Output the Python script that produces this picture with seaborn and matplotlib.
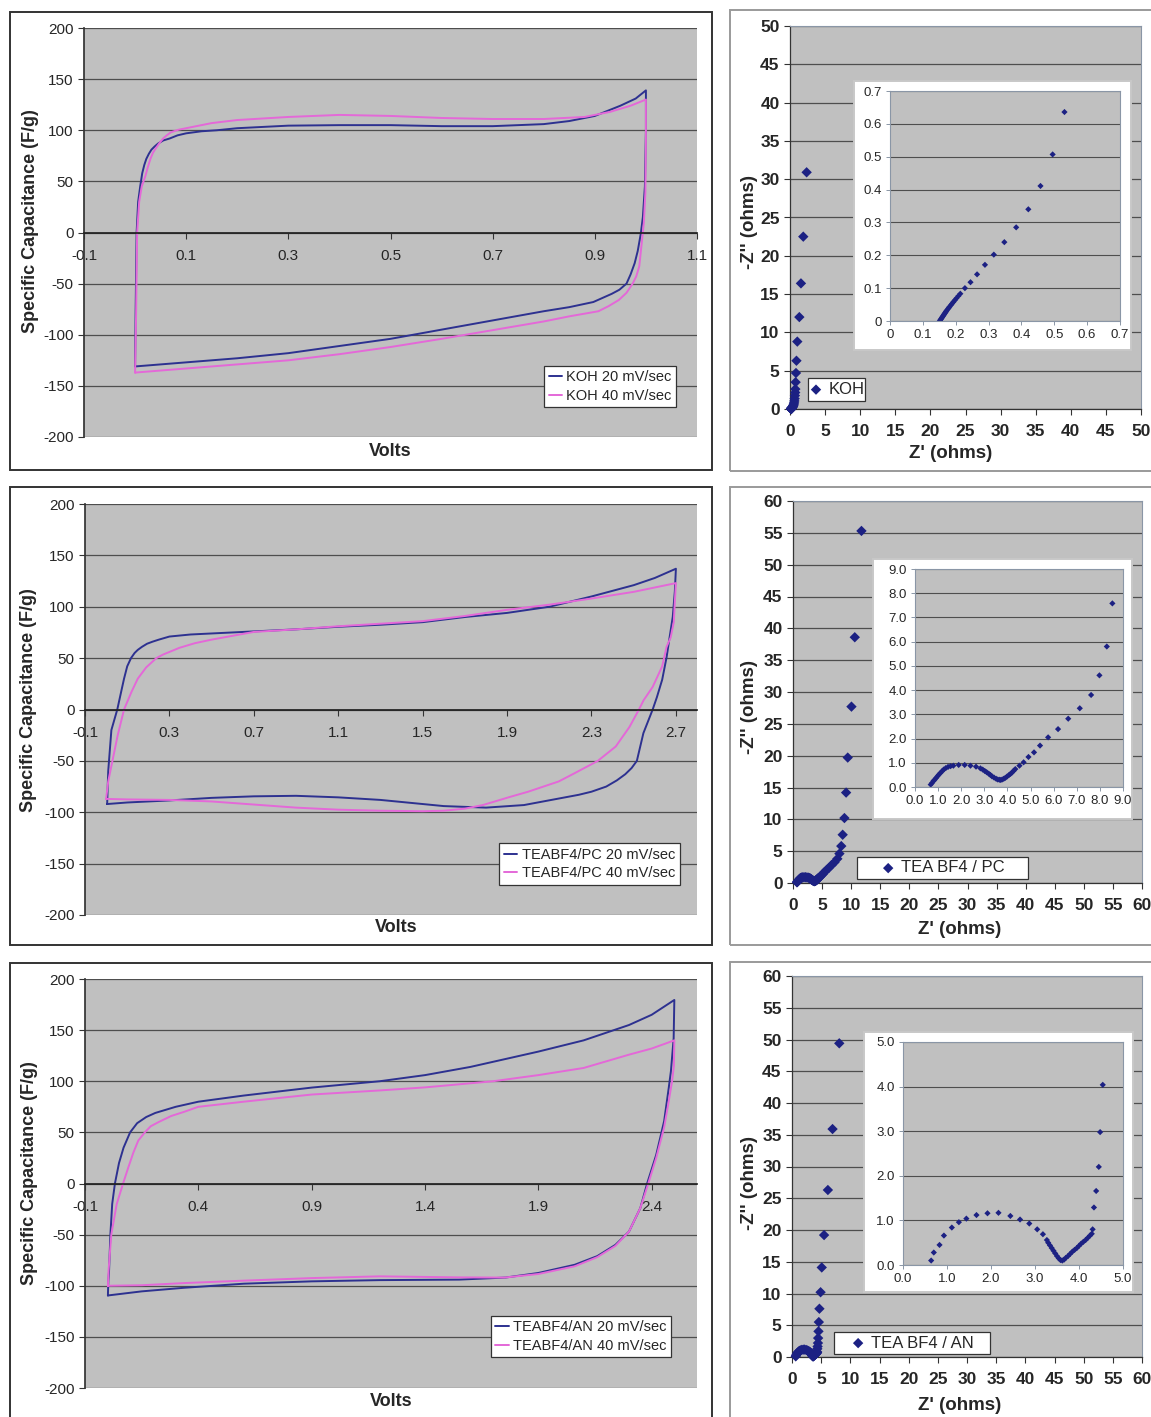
import seaborn as sns
import matplotlib.pyplot as plt
from matplotlib.patches import Rectangle
from matplotlib.ticker import FormatStrFormatter

W, H = 1151, 1417

# ---------------------------------------
# CV loops (Volts, F/g)
# ---------------------------------------
koh20_v = [0.000, 0.001, 0.003, 0.006, 0.010, 0.014, 0.018, 0.022, 0.027, 0.032,
           0.038, 0.045, 0.055, 0.068, 0.083, 0.10, 0.13, 0.16, 0.20, 0.30,
           0.40, 0.50, 0.60, 0.70, 0.80, 0.85, 0.90, 0.95, 0.98, 1.000,
           1.000, 0.998, 0.994, 0.990, 0.984, 0.978, 0.970, 0.962, 0.948, 0.933,
           0.915, 0.897, 0.85, 0.80, 0.70, 0.60, 0.50, 0.40, 0.30, 0.20,
           0.10, 0.000]
koh20_c = [-131, -80, 0, 30, 45, 58, 66, 72, 77, 81,
           84, 87, 90, 92, 95, 97, 99, 100, 102, 104.5,
           105, 105, 104, 104, 106, 109, 114, 124, 131, 139,
           100, 45, 15, -1, -18, -30, -41, -50, -56, -60,
           -64, -68, -73, -77, -86, -95, -104, -111, -118, -123,
           -127, -131]
koh40_v = [0.000, 0.002, 0.004, 0.008, 0.013, 0.020, 0.025, 0.030, 0.035, 0.040,
           0.047, 0.055, 0.062, 0.070, 0.085, 0.10, 0.15, 0.20, 0.30, 0.40,
           0.50, 0.60, 0.70, 0.80, 0.88, 0.93, 0.97, 1.000, 1.000, 0.999,
           0.996, 0.994, 0.987, 0.981, 0.974, 0.962, 0.947, 0.927, 0.907, 0.85,
           0.80, 0.70, 0.60, 0.50, 0.40, 0.30, 0.20, 0.10, 0.000]
koh40_c = [-137, -80, 0, 30, 45, 55, 64, 72, 78, 82,
           87, 92, 95, 98, 100.5, 102, 107, 110, 113, 115,
           114, 112, 111, 111, 113, 118, 124, 130, 90, 40,
           10, 0, -33, -43, -50, -59, -66, -72, -77, -82,
           -87, -95.5, -104, -112, -119, -125, -129, -133, -137]

pc20_v = [0.005, 0.010, 0.025, 0.053, 0.070, 0.085, 0.10, 0.118, 0.135, 0.15,
          0.17, 0.194, 0.22, 0.25, 0.30, 0.40, 0.50, 0.70, 0.90, 1.10,
          1.30, 1.50, 1.70, 1.90, 2.10, 2.30, 2.50, 2.60, 2.70, 2.695,
          2.685, 2.67, 2.656, 2.635, 2.61, 2.59, 2.546, 2.515, 2.49, 2.46,
          2.42, 2.37, 2.30, 2.24, 2.11, 1.98, 1.80, 1.60, 1.50, 1.30,
          1.10, 0.90, 0.70, 0.50, 0.30, 0.10, 0.005]
pc20_c = [-92, -60, -20, 0, 16, 30, 42, 50, 55, 58,
          61, 64, 66, 68, 71, 73, 74, 76, 78, 80.5,
          82.5, 85, 90, 94, 100, 110, 121, 128, 137, 115,
          90, 70, 51, 29, 12, 0, -23, -50, -57, -63,
          -69, -75, -80, -83, -88, -93, -95.5, -94, -92, -88,
          -85.5, -84, -84.5, -86, -88.5, -90.5, -92]
pc40_v = [0.000, 0.010, 0.030, 0.055, 0.085, 0.12, 0.15, 0.19, 0.238, 0.27,
          0.30, 0.347, 0.42, 0.50, 0.70, 0.90, 1.10, 1.30, 1.50, 1.70,
          1.90, 2.10, 2.30, 2.50, 2.70, 2.695, 2.69, 2.675, 2.656, 2.635,
          2.59, 2.547, 2.525, 2.48, 2.415, 2.33, 2.22, 2.145, 2.00, 1.915,
          1.785, 1.70, 1.60, 1.50, 1.30, 1.10, 0.90, 0.70, 0.50, 0.30,
          0.10, 0.000]
pc40_c = [-87, -70, -50, -25, 0, 17, 30, 41, 50, 53.5,
          56, 60, 64.5, 68, 75.5, 78, 81, 83.5, 86, 91,
          97, 102, 108, 114.5, 123, 105, 85, 70, 61, 42,
          22, 9, 0, -17, -36, -50, -62, -70, -80, -85,
          -93, -96.5, -98.5, -99, -98.5, -97.5, -95.5, -92.5, -89.5, -88,
          -87.5, -87]

an20_v = [0.001, 0.003, 0.006, 0.012, 0.020, 0.032, 0.050, 0.070, 0.099, 0.13,
          0.17, 0.21, 0.255, 0.30, 0.40, 0.60, 0.90, 1.20, 1.40, 1.60,
          1.80, 1.90, 2.10, 2.30, 2.40, 2.50, 2.497, 2.485, 2.475, 2.455,
          2.42, 2.38, 2.35, 2.30, 2.24, 2.16, 2.06, 1.90, 1.755, 1.55,
          1.20, 0.90, 0.60, 0.336, 0.15, 0.001]
an20_c = [-109.5, -95, -86, -50, -20, 0, 20, 35, 50, 59,
          65, 69, 72, 75, 80, 86, 93.8, 100, 106, 114,
          124, 129, 140, 155, 165, 179.5, 142, 110, 93, 61,
          28, 0, -24, -47, -60, -71, -79.5, -87.5, -92, -94,
          -94.5, -95.7, -98, -102, -105.5, -109.5]
an40_v = [0.001, 0.004, 0.016, 0.040, 0.068, 0.090, 0.113, 0.135, 0.164, 0.19,
          0.224, 0.28, 0.336, 0.40, 0.60, 0.90, 1.20, 1.40, 1.70, 1.90,
          2.10, 2.30, 2.40, 2.50, 2.498, 2.49, 2.475, 2.455, 2.42, 2.385,
          2.35, 2.30, 2.24, 2.16, 2.06, 1.90, 1.75, 1.55, 1.20, 0.90,
          0.60, 0.336, 0.15, 0.001]
an40_c = [-100, -85, -50, -20, 0, 15, 30, 42, 50, 56,
          60, 66, 70, 75, 80, 87, 91, 94, 100, 106,
          113, 126, 132, 140, 115, 100, 80, 55, 25, 0,
          -24, -47, -61, -72, -81, -88.5, -92, -91.8, -90.8, -92.5,
          -95, -97.4, -99.5, -100]

cv_yticks = [-200, -150, -100, -50, 0, 50, 100, 150, 200]
koh_cv_xticks = [-0.1, 0.1, 0.3, 0.5, 0.7, 0.9, 1.1]
pc_cv_xticks = [-0.1, 0.3, 0.7, 1.1, 1.5, 1.9, 2.3, 2.7]
an_cv_xticks = [-0.1, 0.4, 0.9, 1.4, 1.9, 2.4]

# ---------------------------------------
# Nyquist points (Z', -Z'' in ohms)
# ---------------------------------------
koh_zre = [0.152, 0.154, 0.156, 0.158, 0.160, 0.162, 0.164, 0.166, 0.168, 0.170,
           0.172, 0.175, 0.178, 0.181, 0.185, 0.189, 0.193, 0.197, 0.202, 0.208,
           0.214, 0.228, 0.245, 0.265, 0.289, 0.316, 0.348, 0.384, 0.421, 0.458,
           0.495, 0.531, 0.58, 0.62, 0.66, 0.70, 0.74, 0.76, 0.80, 0.85,
           0.92, 1.04, 1.33, 1.56, 1.89, 2.37]
koh_zim = [0.001, 0.004, 0.007, 0.010, 0.013, 0.016, 0.019, 0.022, 0.025, 0.028,
           0.031, 0.035, 0.039, 0.043, 0.048, 0.053, 0.058, 0.063, 0.069, 0.076,
           0.083, 0.100, 0.118, 0.142, 0.171, 0.202, 0.240, 0.285, 0.340, 0.411,
           0.507, 0.636, 0.80, 1.05, 1.35, 1.75, 2.15, 2.6, 3.5, 4.7,
           6.3, 8.8, 12.0, 16.4, 22.5, 30.9]

pc_zre = [0.68, 0.74, 0.80, 0.85, 0.91, 0.97, 1.03, 1.10, 1.17, 1.24,
          1.33, 1.43, 1.54, 1.66, 1.89, 2.15, 2.40, 2.64, 2.83, 2.93,
          3.02, 3.10, 3.19, 3.26, 3.33, 3.42, 3.51, 3.58, 3.65, 3.71,
          3.77, 3.84, 3.91, 3.98, 4.06, 4.13, 4.20, 4.27, 4.34, 4.52,
          4.70, 4.91, 5.15, 5.41, 5.76, 6.19, 6.63, 7.13, 7.62, 7.98,
          8.30, 8.54, 8.84, 9.13, 9.41, 10.05, 10.62, 11.77]
pc_zim = [0.10, 0.17, 0.25, 0.30, 0.37, 0.44, 0.51, 0.58, 0.65, 0.72,
          0.78, 0.83, 0.86, 0.88, 0.91, 0.91, 0.88, 0.84, 0.77, 0.72,
          0.66, 0.61, 0.55, 0.50, 0.44, 0.39, 0.34, 0.31, 0.30, 0.29,
          0.31, 0.34, 0.38, 0.43, 0.49, 0.54, 0.60, 0.67, 0.74, 0.88,
          1.02, 1.24, 1.43, 1.71, 2.05, 2.39, 2.82, 3.25, 3.80, 4.61,
          5.80, 7.58, 10.2, 14.2, 19.7, 27.7, 38.6, 55.3]

an_zre = [0.64, 0.70, 0.83, 0.93, 1.11, 1.27, 1.44, 1.67, 1.92, 2.17,
          2.44, 2.66, 2.87, 3.05, 3.18, 3.27, 3.30, 3.34, 3.38, 3.42,
          3.46, 3.50, 3.54, 3.58, 3.62, 3.66, 3.70, 3.75, 3.80, 3.85,
          3.90, 3.95, 4.00, 4.05, 4.10, 4.15, 4.20, 4.25, 4.29, 4.31,
          4.34, 4.39, 4.45, 4.48, 4.54, 4.60, 4.70, 4.90, 5.10, 5.50,
          6.15, 6.95, 8.10]
an_zim = [0.10, 0.28, 0.45, 0.66, 0.84, 0.96, 1.04, 1.12, 1.16, 1.17,
          1.10, 1.02, 0.93, 0.80, 0.69, 0.56, 0.50, 0.44, 0.38, 0.32,
          0.26, 0.20, 0.15, 0.11, 0.10, 0.12, 0.16, 0.20, 0.25, 0.30,
          0.34, 0.38, 0.43, 0.48, 0.52, 0.56, 0.61, 0.66, 0.70, 0.80,
          1.29, 1.66, 2.20, 2.98, 4.04, 5.5, 7.6, 10.2, 14.1, 19.2,
          26.3, 35.9, 49.4]

koh_ticks = [0, 5, 10, 15, 20, 25, 30, 35, 40, 45, 50]
tea_ticks = [0, 5, 10, 15, 20, 25, 30, 35, 40, 45, 50, 55, 60]
koh_in_ticks = [0, 0.1, 0.2, 0.3, 0.4, 0.5, 0.6, 0.7]
pc_in_ticks = [0.0, 1.0, 2.0, 3.0, 4.0, 5.0, 6.0, 7.0, 8.0, 9.0]
an_in_ticks = [0.0, 1.0, 2.0, 3.0, 4.0, 5.0]

# ---------------------------------------
# Styling
# ---------------------------------------
sns.set_theme(style="white")
plt.rcParams['font.family'] = ['Liberation Sans', 'DejaVu Sans']
plt.rcParams['axes.unicode_minus'] = False

NAVY = '#2D3190'
PINK = '#E468D8'
MARK = '#1C2183'
BG = '#C0C0C0'
GRID = '#4E4E4E'

fig = plt.figure(figsize=(W / 100, H / 100), dpi=100)


def px_box(x0, y0, x1, y1):
    return [x0 / W, 1 - y1 / H, (x1 - x0) / W, (y1 - y0) / H]


def fpt(x, y):
    return (x / W, 1 - y / H)


def frame(x0, y0, x1, y1, color, face='none', z=1):
    fig.patches.append(Rectangle(fpt(x0, y1), (x1 - x0) / W, (y1 - y0) / H,
                                 transform=fig.transFigure, facecolor=face,
                                 edgecolor=color, lw=1.4, zorder=z))


def legend_box(ax, x0, y0, x1, y1, fs):
    # white box with a fixed size, legend text centred inside it
    ax.add_patch(Rectangle(fpt(x0, y1), (x1 - x0) / W, (y1 - y0) / H,
                           transform=fig.transFigure, facecolor='white',
                           edgecolor='#333333', lw=0.9, zorder=6, clip_on=False))
    leg = ax.legend(loc='center', bbox_to_anchor=fpt((x0 + x1) / 2, (y0 + y1) / 2),
                    bbox_transform=fig.transFigure, frameon=False, fontsize=fs,
                    handlelength=0.9, handletextpad=0.3, borderpad=0.1,
                    labelspacing=0.3)
    leg.set_zorder(7)


def cv_panel(box, series, xlim, xticks, leg, ylab_xy, xlab_xy):
    ax = fig.add_axes(px_box(*box))
    ax.set_facecolor(BG)
    for v, c, col, lab in series:
        sns.lineplot(x=v, y=c, sort=False, estimator=None, color=col, lw=1.4,
                     label=lab, ax=ax)
    ax.set_xlim(xlim)
    ax.set_ylim(-200, 200)
    ax.set_xticks(xticks)
    ax.set_yticks(cv_yticks)
    ax.xaxis.set_major_formatter(FormatStrFormatter('%.1f'))
    ax.grid(axis='y', color=GRID, lw=0.9)
    ax.grid(axis='x', visible=False)
    ax.set_axisbelow(True)
    ax.spines['bottom'].set_position(('data', 0))
    ax.spines['top'].set_visible(False)
    ax.spines['right'].set_visible(False)
    ax.spines['left'].set_color('#333333')
    ax.spines['bottom'].set_color('#222222')
    ax.tick_params(axis='both', direction='out', length=4, width=0.8,
                   color='#333333', labelsize=11, left=True, bottom=True)
    ax.tick_params(axis='x', pad=8)
    ax.set_xlabel('')
    ax.set_ylabel('')
    legend_box(ax, *leg, fs=10.5)
    fig.text(*fpt(*ylab_xy), 'Specific Capacitance (F/g)', rotation=90,
             ha='center', va='center', fontsize=13, fontweight='bold')
    fig.text(*fpt(*xlab_xy), 'Volts', ha='center', va='center',
             fontsize=13, fontweight='bold')


def eis_panel(box, zre, zim, ticks, lab, leg, wbox, ibox, iticks, ifmt,
              ylab_xy, xlab_xy):
    ax = fig.add_axes(px_box(*box))
    ax.set_facecolor(BG)
    sns.scatterplot(x=zre, y=zim, marker='D', s=28, color=MARK, edgecolor='none',
                    label=lab, clip_on=False, ax=ax, zorder=3)
    ax.set_xlim(ticks[0], ticks[-1])
    ax.set_ylim(ticks[0], ticks[-1])
    ax.set_xticks(ticks)
    ax.set_yticks(ticks)
    ax.set_xticklabels([str(t) for t in ticks], fontweight='bold', fontsize=12.5)
    ax.set_yticklabels([str(t) for t in ticks], fontweight='bold', fontsize=12.5)
    ax.grid(axis='y', color=GRID, lw=0.9)
    ax.grid(axis='x', visible=False)
    ax.set_axisbelow(True)
    for s in ['top', 'right']:
        ax.spines[s].set_color('#8A96A6')
        ax.spines[s].set_linewidth(0.8)
    for s in ['left', 'bottom']:
        ax.spines[s].set_color('#333333')
        ax.spines[s].set_linewidth(0.9)
    ax.tick_params(axis='both', direction='out', length=4, width=0.8,
                   color='#333333', left=True, bottom=True)
    ax.tick_params(axis='x', pad=7)
    ax.set_xlabel('')
    ax.set_ylabel('')
    legend_box(ax, *leg, fs=12)

    # inset on a white card
    frame(*wbox, color='#C8C8C8', face='white', z=1.5)
    axi = fig.add_axes(px_box(*ibox))
    axi.set_zorder(2)
    axi.set_facecolor(BG)
    sns.scatterplot(x=zre, y=zim, marker='D', s=10, color=MARK, edgecolor='none',
                    ax=axi, legend=False)
    axi.set_xlim(iticks[0], iticks[-1])
    axi.set_ylim(iticks[0], iticks[-1])
    axi.set_xticks(iticks)
    axi.set_yticks(iticks)
    axi.set_xticklabels([ifmt % t for t in iticks], fontsize=9.5)
    axi.set_yticklabels([ifmt % t for t in iticks], fontsize=9.5)
    axi.grid(axis='y', color=GRID, lw=0.8)
    axi.grid(axis='x', visible=False)
    axi.set_axisbelow(True)
    for s in axi.spines.values():
        s.set_color('#8A96A6')
        s.set_linewidth(0.8)
    axi.tick_params(axis='both', direction='out', length=3, width=0.7,
                    color='#8A96A6', left=True, bottom=True, pad=3)
    axi.set_xlabel('')
    axi.set_ylabel('')

    fig.text(*fpt(*ylab_xy), "-Z'' (ohms)", rotation=90, ha='center', va='center',
             fontsize=13.5, fontweight='bold')
    fig.text(*fpt(*xlab_xy), "Z' (ohms)", ha='center', va='center',
             fontsize=13.5, fontweight='bold')


# ---------------------------------------
# Panel frames
# ---------------------------------------
frame(10, 12, 712, 470, '#333333')
frame(10, 487, 712, 945, '#333333')
frame(10, 963, 712, 1430, '#333333')
frame(730, 10, 1165, 471, '#9A9A9A')
frame(730, 487, 1165, 945, '#9A9A9A')
frame(730, 962, 1165, 1430, '#9A9A9A')

# ---------------------------------------
# CV panels (left column)
# ---------------------------------------
cv_panel((84, 28, 697, 437),
         [(koh20_v, koh20_c, NAVY, 'KOH 20 mV/sec'),
          (koh40_v, koh40_c, PINK, 'KOH 40 mV/sec')],
         (-0.1, 1.1), koh_cv_xticks, (544, 366, 676, 407), (31, 221), (390, 451))
cv_panel((85, 504, 697, 915),
         [(pc20_v, pc20_c, NAVY, 'TEABF4/PC 20 mV/sec'),
          (pc40_v, pc40_c, PINK, 'TEABF4/PC 40 mV/sec')],
         (-0.1, 2.8), pc_cv_xticks, (499, 843, 680, 885), (29, 700), (396, 927))
cv_panel((85, 979, 697, 1388),
         [(an20_v, an20_c, NAVY, 'TEABF4/AN 20 mV/sec'),
          (an40_v, an40_c, PINK, 'TEABF4/AN 40 mV/sec')],
         (-0.1, 2.6), an_cv_xticks, (491, 1316, 671, 1357), (30, 1173), (391, 1402))

# ---------------------------------------
# Nyquist panels (right column)
# ---------------------------------------
eis_panel((790, 26, 1141, 409), koh_zre, koh_zim, koh_ticks, 'KOH',
          (808, 378, 865, 401), (854, 81, 1131, 350), (890, 91, 1120, 321),
          koh_in_ticks, '%g', (749, 222), (951, 454))
eis_panel((793, 501, 1142, 883), pc_zre, pc_zim, tea_ticks, 'TEA BF4 / PC',
          (857, 857, 1028, 879), (873, 559, 1132, 819), (915, 569, 1123, 787),
          pc_in_ticks, '%.1f', (750, 707), (960, 930))
eis_panel((792, 976, 1142, 1357), an_zre, an_zim, tea_ticks, 'TEA BF4 / AN',
          (834, 1332, 990, 1354), (864, 1032, 1133, 1292), (903, 1042, 1123, 1265),
          an_in_ticks, '%.1f', (749, 1183), (960, 1405))

plt.savefig('out.png', dpi=100)
